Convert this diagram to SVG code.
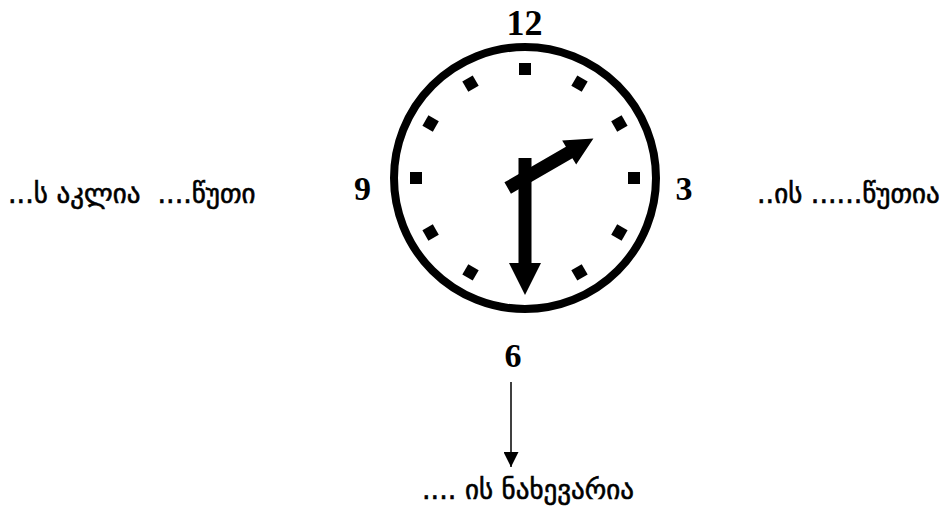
<svg xmlns="http://www.w3.org/2000/svg" width="944" height="511" viewBox="0 0 944 511">
<style>
.num{font-family:"Liberation Serif","DejaVu Serif",serif;fill:#000;text-anchor:middle}
.geo{font-family:"DejaVu Sans","Noto Sans Georgian",sans-serif;font-size:27px;fill:#000;stroke:#000;stroke-width:0.6px;white-space:pre}
.tick{fill:#000}
</style>
<defs>
<marker id="ah" viewBox="0 0 10 10" refX="10" refY="5" markerWidth="15" markerHeight="15" markerUnits="userSpaceOnUse" orient="auto">
<path d="M0,0 L10,5 L0,10 Z" fill="#000"/>
</marker>
<rect id="tk" x="-6" y="-115" width="12" height="12"/>
</defs>
<rect width="944" height="511" fill="#fff"/>
<g id="clock">
<circle cx="525" cy="178" r="131" fill="#fff" stroke="#000" stroke-width="8"/>
<g transform="translate(525,178)" class="tick">
<use href="#tk"/>
<use href="#tk" transform="rotate(30)"/>
<use href="#tk" transform="rotate(60)"/>
<use href="#tk" transform="rotate(90)"/>
<use href="#tk" transform="rotate(120)"/>
<use href="#tk" transform="rotate(150)"/>
<use href="#tk" transform="rotate(210)"/>
<use href="#tk" transform="rotate(240)"/>
<use href="#tk" transform="rotate(270)"/>
<use href="#tk" transform="rotate(300)"/>
<use href="#tk" transform="rotate(330)"/>
</g>
<g id="hour-hand" transform="translate(525,178) rotate(60)">
<path d="M-6.5,20 L-6.5,-51 L-14,-51 L0,-79 L14,-51 L6.5,-51 L6.5,20 Z" fill="#000"/>
</g>
<g id="minute-hand">
<path d="M518.5,158 L531.5,158 L531.5,263 L541,263 L525,295 L509,263 L518.5,263 Z" fill="#000"/>
</g>
</g>
<g id="n12"><text class="num" x="524.5" y="35" font-size="36" font-weight="bold">12</text></g>
<g id="n9"><text class="num" x="362.5" y="200" font-size="34" font-weight="bold">9</text></g>
<g id="n3"><text class="num" x="684" y="200" font-size="34" font-weight="bold">3</text></g>
<g id="n6"><text class="num" x="513" y="367" font-size="34" font-weight="bold">6</text></g>
<g id="left-label"><text class="geo" x="8" y="203" xml:space="preserve">...ს აკლია  ....წუთი</text></g>
<g id="right-label"><text class="geo" x="757" y="203">..ის ......წუთია</text></g>
<g id="bottom-label"><text class="geo" x="422" y="499" font-size="26">.... ის ნახევარია</text></g>
<g id="connectors">
<line x1="511" y1="382" x2="511" y2="467" stroke="#000" stroke-width="1.5" marker-end="url(#ah)"/>
</g>
</svg>
